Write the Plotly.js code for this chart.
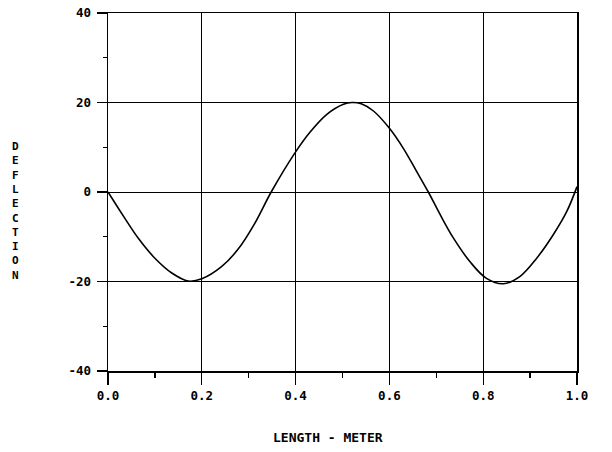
<!DOCTYPE html>
<html>
<head>
<meta charset="utf-8">
<script src="https://cdn.plot.ly/plotly-3.0.1.min.js"></script>
<style>html,body{margin:0;padding:0;background:#fff;}#chart{width:612px;height:452px;}</style>
</head>
<body>
<div id="chart"></div>
<script>
// Data (length in meters, deflection)
var lengthM = [0, 0.036, 0.065, 0.100, 0.136, 0.171, 0.200, 0.242, 0.278, 0.313, 0.348,
               0.399, 0.431, 0.466, 0.502, 0.520, 0.540, 0.566, 0.598, 0.630, 0.658, 0.683,
               0.708, 0.736, 0.772, 0.807, 0.843, 0.878, 0.914, 0.949, 0.978, 1.000];
var deflection = [0, -5.9, -10.4, -14.8, -18.1, -19.9, -19.4, -16.7, -12.7, -7.0, 0,
                  8.8, 13.4, 17.3, 19.6, 20.0, 19.7, 18.1, 14.5, 9.7, 4.6, 0,
                  -5.0, -10.2, -15.6, -19.3, -20.5, -18.9, -14.8, -9.6, -4.4, 1.2];
var xTickVals = [0, 0.2, 0.4, 0.6, 0.8, 1.0];
var xTickText = ["0.0", "0.2", "0.4", "0.6", "0.8", "1.0"];
var yTickVals = [-40, -20, 0, 20, 40];
var yTickText = ["-40", "-20", "0", "20", "40"];
var xTitle = "LENGTH - METER";
var yTitle = "DEFLECTION";

var FONT = "DejaVu Sans Mono, monospace";

var trace = {
  x: lengthM, y: deflection, type: "scatter", mode: "lines",
  line: {color: "#000", width: 1.6, shape: "spline", smoothing: 1},
  hoverinfo: "skip"
};

var axisCommon = {
  showline: true, mirror: true, linecolor: "#000", linewidth: 1.5,
  showgrid: true, gridcolor: "#000", gridwidth: 1,
  zeroline: false, ticks: "outside", tickcolor: "#000", tickwidth: 1.2,
  tickfont: {family: FONT, size: 12.5, color: "#000", weight: "bold"}
};

var layout = {
  width: 612, height: 452,
  margin: {l: 108, r: 35, t: 13, b: 81},
  paper_bgcolor: "#fff", plot_bgcolor: "#fff",
  showlegend: false,
  xaxis: Object.assign({}, axisCommon, {
    range: [0, 1], tickmode: "array", tickvals: xTickVals, ticktext: xTickText,
    ticklen: 12,
    minor: {dtick: 0.1, tick0: 0, ticklen: 5, tickcolor: "#000", tickwidth: 1.2, ticks: "outside", showgrid: false}
  }),
  yaxis: Object.assign({}, axisCommon, {
    range: [-40, 40], tickmode: "array", tickvals: yTickVals, ticktext: yTickText,
    ticklen: 10, ticklabelstandoff: 3,
    minor: {dtick: 10, tick0: 0, ticklen: 4, tickcolor: "#000", tickwidth: 1.2, ticks: "outside", showgrid: false}
  }),
  annotations: [
    {
      text: xTitle, xref: "paper", yref: "paper", x: 0.47, y: 0,
      xanchor: "center", yanchor: "middle", yshift: -66, showarrow: false,
      font: {family: FONT, size: 13, color: "#000", weight: "bold"}
    },
    {
      text: yTitle.split("").join("<br>"), xref: "paper", yref: "paper",
      x: 0, y: 0.5, xshift: -93, yshift: -19,
      xanchor: "center", yanchor: "middle", showarrow: false, align: "center",
      font: {family: FONT, size: 11, color: "#000", weight: "bold"}
    }
  ]
};

Plotly.newPlot("chart", [trace], layout, {staticPlot: true, displayModeBar: false});
</script>
</body>
</html>
